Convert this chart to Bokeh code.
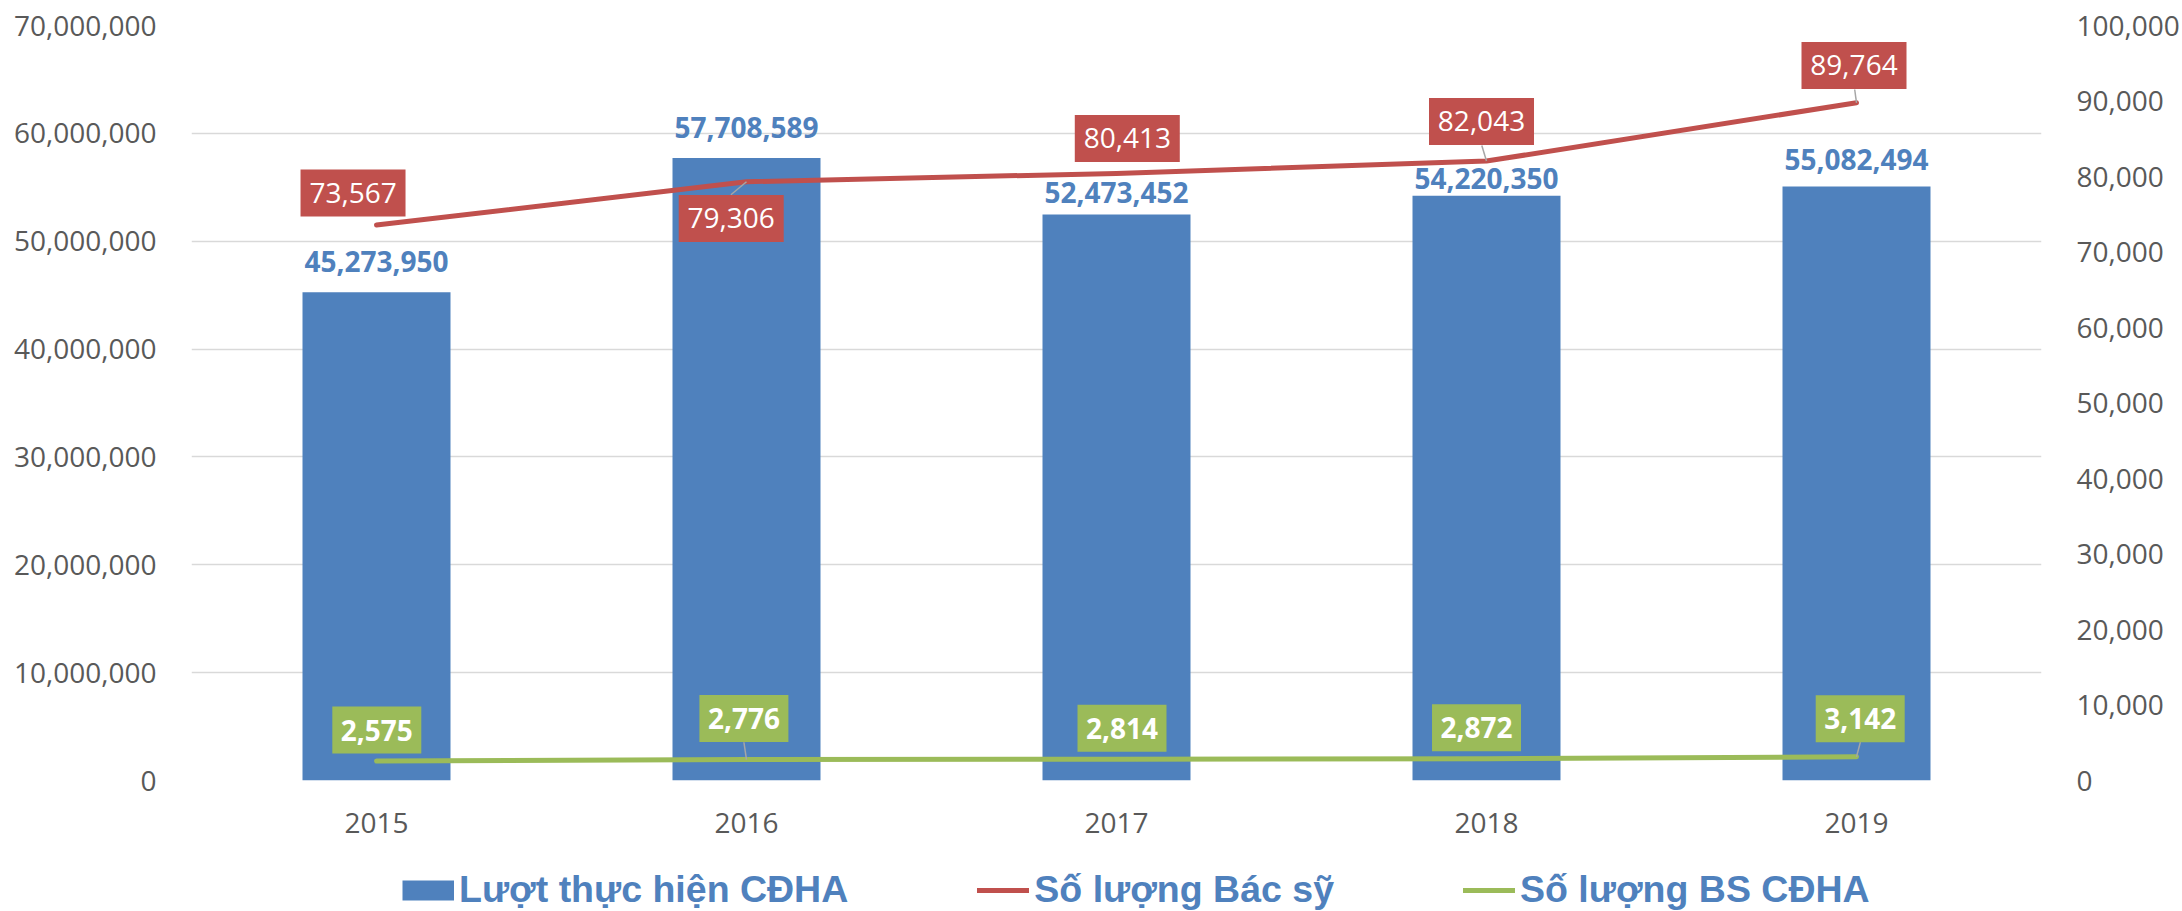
from bokeh.plotting import figure
from bokeh.layouts import column
from bokeh.models import Range1d, LinearAxis, FixedTicker, NumeralTickFormatter, Legend, LegendItem
from bokeh.core.properties import value
from bokeh.embed import file_html
from bokeh.resources import INLINE

# ---------------- data ----------------
years = ["2015", "2016", "2017", "2018", "2019"]
luot_cdha = [45273950, 57708589, 52473452, 54220350, 55082494]
so_bac_sy = [73567, 79306, 80413, 82043, 89764]
so_bs_cdha = [2575, 2776, 2814, 2872, 3142]
left_ticks = [0, 10000000, 20000000, 30000000, 40000000, 50000000, 60000000, 70000000]
right_ticks = [0, 10000, 20000, 30000, 40000, 50000, 60000, 70000, 80000, 90000, 100000]
legend_labels = ["Lượt thực hiện CĐHA", "Số lượng Bác sỹ", "Số lượng BS CĐHA"]

# ---------------- style / layout ----------------
BLUE, RED, GREEN = "#4F81BD", "#C0504D", "#9BBB59"
GRID, TXT, LEAD = "#D9D9D9", "#595959", "#A6A6A6"
W, H = 2182, 911
LEG_H = 51                      # height of the legend strip at the bottom
MAIN_H = H - LEG_H
FL, FR, FT, FB = 191, 2043, 25, 780
FW, FH = FR - FL, FB - FT
L_MAX, R_MAX = left_ticks[-1], right_ticks[-1]
n = len(years)
xs = list(range(n))
kx = n / FW          # data units per px (x)
kl = L_MAX / FH      # data per px (left y)
kr = R_MAX / FH      # data per px (right y)

# label placement offsets in pixels (dx right, dy up)
bar_label_gap = [31, 30.6, 22, 17, 27]      # digit centre above bar top
red_off = [(-23.5, 32), (-15.3, -36.7), (10.8, 35), (-5, 39.6), (-2.5, 37.3)]
green_off = [(0.3, 31), (-2.6, 41), (5.5, 31), (-10, 31), (3.7, 38)]
red_leaders = {1: (-15.6, -13), 3: (-4.7, 15.6), 4: (-1.8, 13.3)}
green_leaders = {1: (-2.6, 17.3), 4: (3.9, 14.6)}

p = figure(width=W, height=MAIN_H, output_backend="svg", toolbar_location=None,
           x_range=Range1d(-0.5, n - 0.5), y_range=Range1d(0, L_MAX),
           min_border_left=FL, min_border_right=W - FR,
           min_border_top=FT, min_border_bottom=MAIN_H - FB)
p.outline_line_color = None
p.background_fill_color = "white"
p.border_fill_color = "white"
p.extra_y_ranges = {"r": Range1d(0, R_MAX)}

# axes
p.xaxis.ticker = FixedTicker(ticks=xs)
p.xaxis.major_label_overrides = {i: y for i, y in enumerate(years)}
p.yaxis.ticker = FixedTicker(ticks=left_ticks)
p.yaxis.formatter = NumeralTickFormatter(format="0,0")
raxis = LinearAxis(y_range_name="r", ticker=FixedTicker(ticks=right_ticks),
                   formatter=NumeralTickFormatter(format="0,0"))
p.add_layout(raxis, "right")
for ax in [p.xaxis[0], p.yaxis[0], raxis]:
    ax.axis_line_color = None
    ax.major_tick_line_color = None
    ax.minor_tick_line_color = None
    ax.major_label_text_font = "Open Sans"
    ax.major_label_text_font_size = "28px"
    ax.major_label_text_color = TXT
    ax.major_label_standoff = 29
p.xaxis.major_label_standoff = 26
p.xgrid.visible = False
p.ygrid.ticker = FixedTicker(ticks=left_ticks)
p.ygrid.grid_line_color = GRID
p.ygrid.grid_line_width = 1.5

# bars
bars = p.vbar(x=xs, top=luot_cdha, width=0.4, fill_color=BLUE, line_color=None)
# lines
rline = p.line(xs, so_bac_sy, y_range_name="r", line_color=RED, line_width=5,
               line_cap="round", line_join="round")
gline = p.line(xs, so_bs_cdha, y_range_name="r", line_color=GREEN, line_width=5,
               line_cap="round", line_join="round")

# leader lines
def leaders(vals, lead):
    x0, y0, x1, y1 = [], [], [], []
    for i, (dx, dy) in lead.items():
        x0.append(xs[i]); y0.append(vals[i])
        x1.append(xs[i] + dx * kx); y1.append(vals[i] + dy * kr)
    return x0, y0, x1, y1
for vals, lead in [(so_bac_sy, red_leaders), (so_bs_cdha, green_leaders)]:
    a, b, c, d = leaders(vals, lead)
    p.segment(a, b, c, d, y_range_name="r", line_color=LEAD, line_width=1.5)

# bar labels
p.text(x=xs, y=[v + g * kl for v, g in zip(luot_cdha, bar_label_gap)],
       text=[f"{v:,}" for v in luot_cdha], text_font=value("Open Sans"),
       text_font_size="28px", text_font_style="bold", text_color=BLUE,
       text_align="center", text_baseline="middle")

# boxed labels
def boxed(vals, offs, color, bw, style):
    bx = [xs[i] + dx * kx for i, (dx, dy) in enumerate(offs)]
    by = [vals[i] + dy * kr for i, (dx, dy) in enumerate(offs)]
    p.rect(x=bx, y=by, width=bw, height=47, width_units="screen", height_units="screen",
           y_range_name="r", fill_color=color, line_color=None)
    p.text(x=bx, y=by, text=[f"{v:,}" for v in vals], y_range_name="r",
           text_font=value("Open Sans"), text_font_size="28px", text_font_style=style,
           text_color="white", text_align="center", text_baseline="middle")
boxed(so_bac_sy, red_off, RED, 105, "normal")
boxed(so_bs_cdha, green_off, GREEN, 89, "bold")

# ---------------- legend strip ----------------
# (its frame is aligned with the main frame by the column layout)
lf = figure(width=W, height=LEG_H, output_backend="svg", toolbar_location=None,
            x_axis_type=None, y_axis_type=None, x_range=Range1d(0, 1), y_range=Range1d(0, 1),
            min_border_left=FL, min_border_right=W - FR, min_border_top=0, min_border_bottom=0)
lf.outline_line_color = None
lf.grid.visible = False
# key renderers: same series, far outside this strip's tiny ranges, so only the keys show
k_bar = lf.line(xs, luot_cdha, line_color=BLUE, line_width=20, line_cap="butt")
k_red = lf.line(xs, so_bac_sy, line_color=RED, line_width=5, line_cap="round")
k_green = lf.line(xs, so_bs_cdha, line_color=GREEN, line_width=5, line_cap="round")
legend = Legend(items=[LegendItem(label=legend_labels[0], renderers=[k_bar]),
                       LegendItem(label=legend_labels[1], renderers=[k_red]),
                       LegendItem(label=legend_labels[2], renderers=[k_green])],
                location=(211, 0), orientation="horizontal",
                glyph_width=52, glyph_height=26, label_standoff=5, spacing=129,
                padding=0, margin=0, border_line_color=None, background_fill_alpha=0,
                label_text_font="Liberation Sans", label_text_font_style="bold",
                label_text_font_size="37.5px", label_text_color=BLUE)
lf.add_layout(legend)

open("out.html", "w").write(file_html(column(p, lf, spacing=0), INLINE))
